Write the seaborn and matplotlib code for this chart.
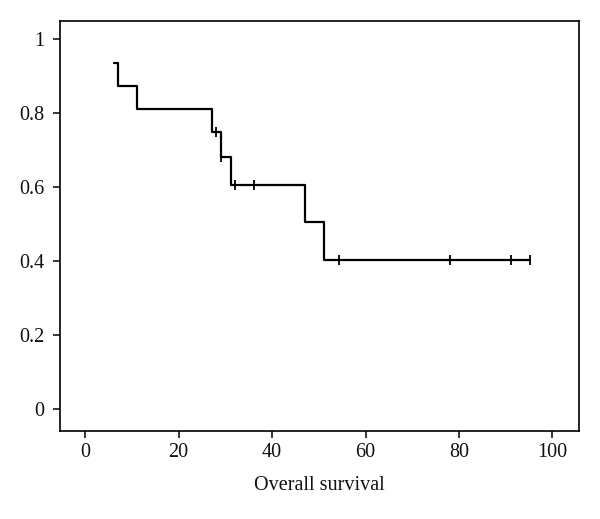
import matplotlib
matplotlib.use("Agg")
import matplotlib.pyplot as plt
import pandas as pd
import seaborn as sns

# Kaplan-Meier step values
step_time = [6.2, 7.1, 11.0, 27.1, 29.1, 31.2, 47.0, 51.2, 95.2]
survival = [0.9375, 0.875, 0.8125, 0.75, 0.682, 0.606, 0.505, 0.404, 0.404]

# censored observations (tick marks)
censor_time = [28.1, 29.1, 32.1, 36.1, 54.3, 78.1, 91.1, 95.2]
censor_surv = [0.75, 0.682, 0.606, 0.606, 0.404, 0.404, 0.404, 0.404]

x_ticks = [0, 20, 40, 60, 80, 100]
y_ticks = [0, 0.2, 0.4, 0.6, 0.8, 1]
y_tick_labels = ["0", "0.2", "0.4", "0.6", "0.8", "1"]

df_steps = pd.DataFrame({"time": step_time, "surv": survival})
df_cens = pd.DataFrame({"time": censor_time, "surv": censor_surv})

sns.set_style("ticks")
plt.rcParams["font.family"] = ["Liberation Serif", "DejaVu Serif"]

fig = plt.figure(figsize=(6, 5.19), dpi=100)
ax = fig.add_axes([0.1, 0.1696, 0.865, 0.79])

# survival curve
sns.lineplot(data=df_steps, x="time", y="surv", drawstyle="steps-post",
             color="black", linewidth=1.6, sort=False, ax=ax)

# censor marks
ax.plot(df_cens["time"], df_cens["surv"], linestyle="none", marker="|",
        markersize=7, markeredgewidth=1.3, color="black")

ax.set_xlim(-5.4, 105.7)
ax.set_ylim(-0.06, 1.05)
ax.set_xticks(x_ticks)
ax.set_yticks(y_ticks)
ax.set_yticklabels(y_tick_labels)
ax.set_xlabel("Overall survival", fontsize=14.5, labelpad=10, color="#111111")
ax.set_ylabel("")
ax.tick_params(axis="both", labelsize=14.5, length=5, width=1.1,
               color="black", labelcolor="#111111")
ax.tick_params(axis="x", pad=4)
ax.tick_params(axis="y", pad=6.5)
for side in ["top", "right", "bottom", "left"]:
    ax.spines[side].set_visible(True)
    ax.spines[side].set_color("black")
    ax.spines[side].set_linewidth(1.2)

plt.savefig("out.png", dpi=100)
